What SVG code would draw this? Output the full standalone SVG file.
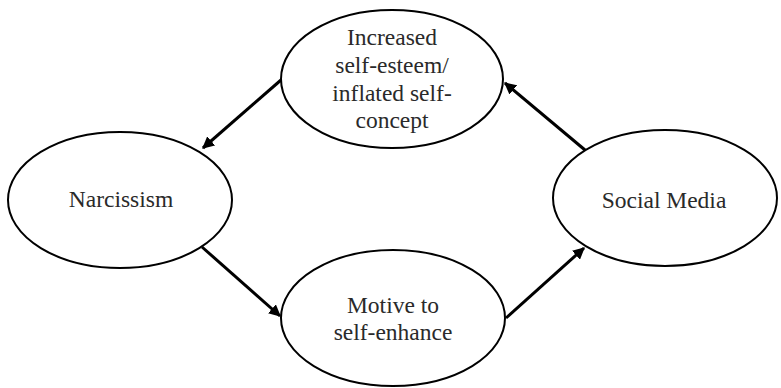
<svg xmlns="http://www.w3.org/2000/svg" width="781" height="388" viewBox="0 0 781 388">
  <style>
    .node ellipse { fill: #ffffff; stroke: #000000; stroke-width: 2; }
    .node text { font-family: "Times New Roman", Times, "Liberation Serif", Tinos, "Noto Serif", "DejaVu Serif", serif; font-size: 23.5px; fill: #2a2a2a; text-anchor: middle; }
    .edge { stroke: #000000; stroke-width: 3; fill: none; marker-end: url(#arrow); }
  </style>
  <defs>
    <marker id="arrow" viewBox="0 0 10 10" refX="9" refY="5" markerWidth="4" markerHeight="4" orient="auto" markerUnits="strokeWidth">
      <path d="M0,0 L10,5 L0,10 z" fill="#000000"/>
    </marker>
  </defs>

  <rect width="781" height="388" fill="#ffffff"/>

  <g id="connectors">
    <line class="edge" x1="281" y1="80" x2="203" y2="148"/>
    <line class="edge" x1="202" y1="247" x2="280" y2="316"/>
    <line class="edge" x1="506" y1="318" x2="584" y2="248"/>
    <line class="edge" x1="585" y1="150" x2="505" y2="83"/>
  </g>

  <g id="self-esteem" class="node">
    <ellipse cx="392" cy="79" rx="111" ry="69"/>
    <text x="392" y="45">Increased</text>
    <text x="392" y="73">self-esteem/</text>
    <text x="392" y="101">inflated self-</text>
    <text x="392" y="128">concept</text>
  </g>

  <g id="narcissism" class="node">
    <ellipse cx="120" cy="200" rx="112" ry="68"/>
    <text x="121" y="207">Narcissism</text>
  </g>

  <g id="social-media" class="node">
    <ellipse cx="665" cy="198" rx="112" ry="68"/>
    <text x="664" y="208">Social Media</text>
  </g>

  <g id="self-enhance" class="node">
    <ellipse cx="393" cy="318" rx="112" ry="68"/>
    <text x="393" y="313">Motive to</text>
    <text x="393" y="340">self-enhance</text>
  </g>
</svg>
